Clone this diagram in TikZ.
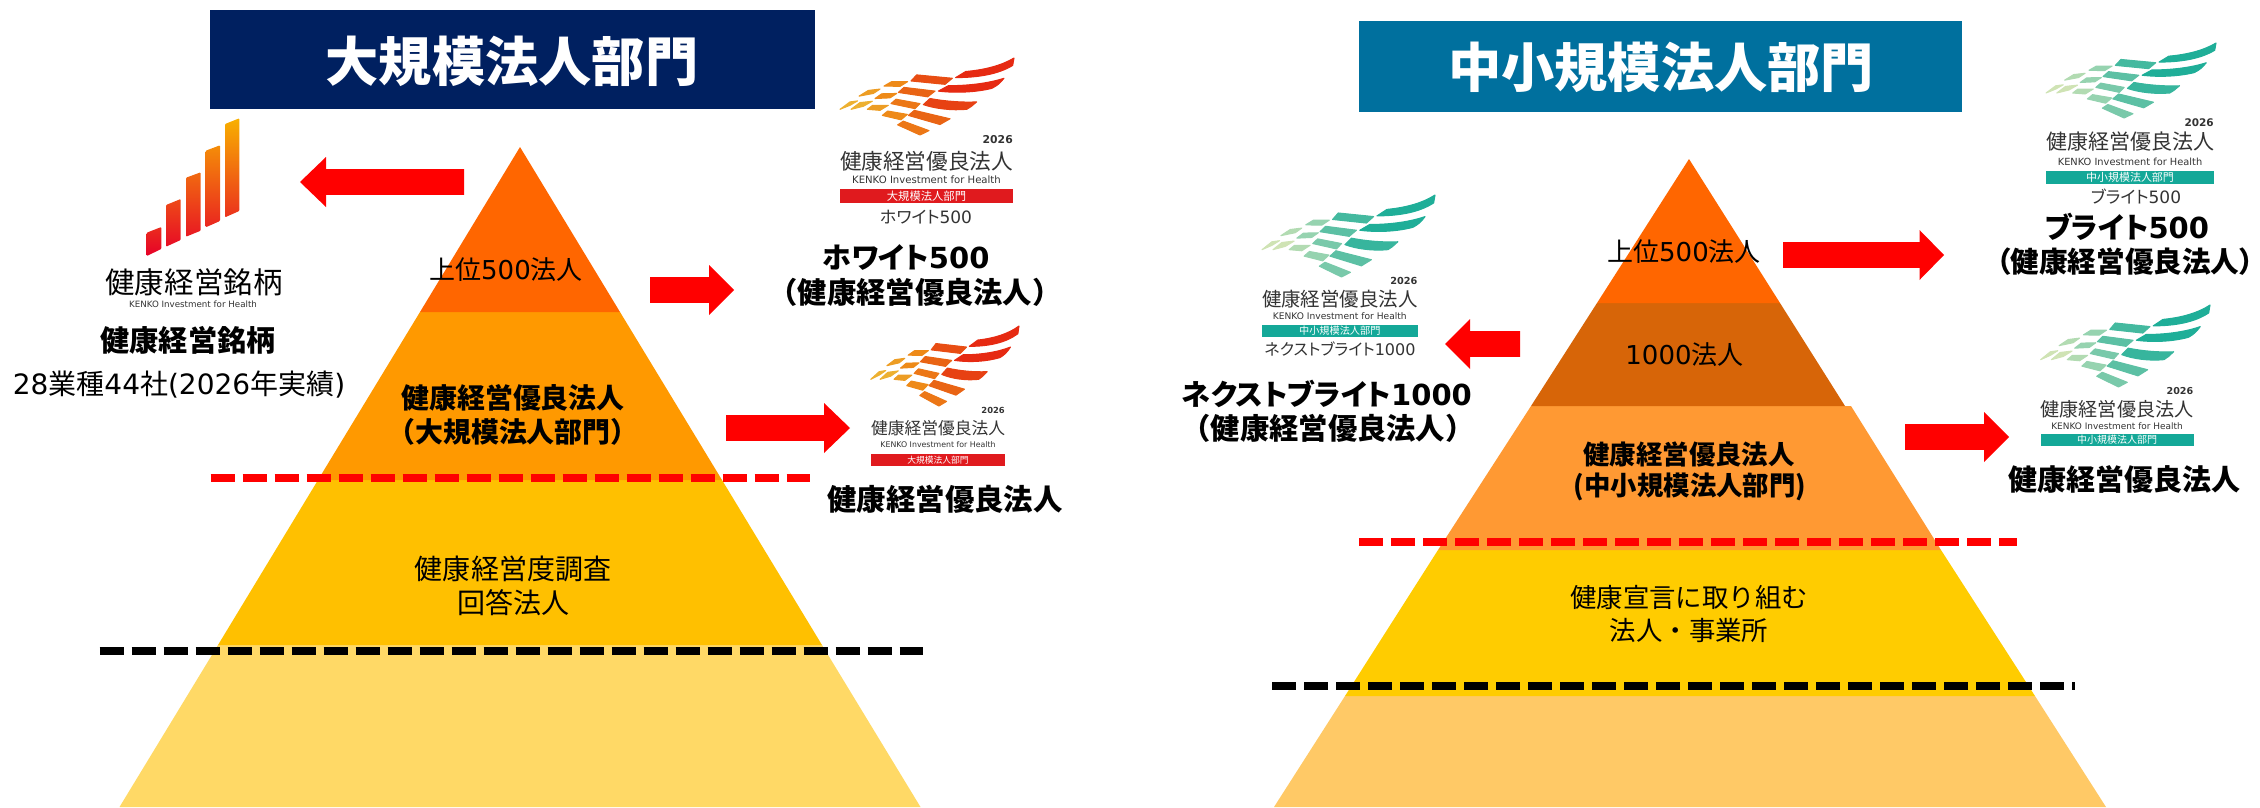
\documentclass[tikz,border=0pt]{standalone}
\usepackage{fontspec}
\setmainfont{Noto Sans CJK JP}
\newfontfamily\palt[RawFeature=+palt]{Noto Sans CJK JP}
\newfontfamily\latinf{DejaVu Sans}
\newcommand{\fpx}[1]{\pgfmathsetmacro\tmpfs{#1*0.8536}\fontsize{\tmpfs pt}{\tmpfs pt}\selectfont}
\newcommand{\dg}[1]{{\latinf #1}}
\definecolor{navyhead}{HTML}{002060}
\definecolor{tealhead}{HTML}{00709E}
\definecolor{lA}{HTML}{FF6600}
\definecolor{lB}{HTML}{FF9900}
\definecolor{lC}{HTML}{FFC000}
\definecolor{lD}{HTML}{FFD966}
\definecolor{rA}{HTML}{FF6600}
\definecolor{rB}{HTML}{D76508}
\definecolor{rC}{HTML}{FF9933}
\definecolor{rD}{HTML}{FFCC00}
\definecolor{rE}{HTML}{FFC966}
\definecolor{logoink}{HTML}{333333}
\definecolor{redbar}{HTML}{E01A1E}
\definecolor{tealbar}{HTML}{14A898}
\definecolor{oA}{HTML}{EDB030}
\definecolor{oB}{HTML}{EE8A18}
\definecolor{oC}{HTML}{E96414}
\definecolor{oD}{HTML}{E62A12}
\definecolor{gA}{HTML}{CFE3B4}
\definecolor{gB}{HTML}{96D3B0}
\definecolor{gC}{HTML}{5CC0A4}
\definecolor{gD}{HTML}{1FAE98}
\definecolor{barlow}{HTML}{E60028}
\definecolor{barhigh}{HTML}{F8B000}
\tikzset{
  lab/.style={inner sep=0pt,text=black,align=center},
  blockarrow/.style={fill=red,draw=none},
  reddash/.style={draw=red,line width=0.24cm,dash pattern=on 0.72cm off 0.24cm},
  blackdash/.style={draw=black,line width=0.24cm,dash pattern=on 0.72cm off 0.24cm},
  inklab/.style={inner sep=0pt,text=logoink},
  stockbar/.style={rounded corners=0.8pt},
  cell/.style={fill=#1,draw=#1,line width=0.9pt,line join=round}
}
% block arrow: xstart, xbase, xtip, ycentre (works in both directions)
\newcommand{\blockarr}[4]{\fill[blockarrow] (#1,#4-12.8) -- (#2,#4-12.8) -- (#2,#4-25) -- (#3,#4) -- (#2,#4+25) -- (#2,#4+12.8) -- (#1,#4+12.8) -- cycle;}
% wing logo: x0 y0 w h c1 c2 c3 c4
\newcommand{\wing}[8]{%
\pgfmathsetmacro\wsx{#3/522}\pgfmathsetmacro\wsy{#4/228}%
\begin{scope}[shift={(#1,#2)},xscale=\wsx,yscale=\wsy,shift={(-15,-20)}]
\path[cell=#8] (362,78) -- (392,60) .. controls (450,55) and (500,42) .. (537,20) -- (533,42) .. controls (490,68) and (430,78) .. cycle;
\path[cell=#7!60!#8] (228,88) -- (245,70) -- (352,80) -- (330,98) -- cycle;
\path[cell=#6] (147,103) -- (170,90) -- (218,90) -- (195,104) -- cycle;
\path[cell=#5!50!#6] (72,133) -- (100,116) -- (135,112) -- (115,125) -- cycle;
\path[cell=#8] (310,118) -- (340,102) .. controls (400,102) and (460,95) .. (507,80) .. controls (495,95) and (485,103) .. (470,110) .. controls (420,122) and (360,124) .. cycle;
\path[cell=#7] (190,122) -- (207,107) -- (300,118) -- (278,135) -- cycle;
\path[cell=#6] (120,140) -- (140,126) -- (185,125) -- (165,138) -- cycle;
\path[cell=#5] (48,172) -- (75,152) -- (112,148) -- (85,163) -- cycle;
\path[cell=#7!40!#8] (265,158) -- (285,140) .. controls (330,148) and (380,152) .. (425,150) .. controls (410,162) and (405,168) .. (395,172) .. controls (350,176) and (300,170) .. cycle;
\path[cell=#6!50!#7] (168,155) -- (183,142) -- (255,155) -- (240,170) -- cycle;
\path[cell=#5!50!#6] (97,172) -- (113,160) -- (160,160) -- (135,175) -- cycle;
\path[cell=#5] (15,172) -- (45,150) -- (68,147) -- (45,160) -- cycle;
\path[cell=#7] (220,190) -- (238,175) -- (345,200) -- (315,217) -- cycle;
\path[cell=#6] (142,190) -- (158,177) -- (217,187) -- (198,203) -- cycle;
\path[cell=#6!50!#7] (188,218) -- (205,207) -- (282,235) -- (255,248) -- cycle;
\end{scope}}
% logo text: name x0 x1 y2026 ytitle ykenko ybar0 ybar1 barcolour; \bartext is the band text
\newcommand{\logotext}[9]{%
\pgfmathsetmacro\lw{#3-#2}\pgfmathsetmacro\lc{(#2+#3)/2}%
\node[inklab,anchor=east,font=\latinf\bfseries] (#1y) at (#3,#4) {\fpx{\lw/16}2026};
\node[inklab] (#1t) at (\lc,#5) {\fpx{\lw/8}健康経営優良法人};
\node[inklab,font=\latinf] (#1k) at (\lc,#6) {\fpx{\lw/17.1}KENKO Investment for Health};
\fill[#9] (#2,#7) rectangle (#3,#8);
\pgfmathsetmacro\lm{(#7+#8)/2}%
\node[inner sep=0pt,text=white] (#1b) at (\lc,\lm) {\fpx{\lw/15.3}\bartext};}
% stock bar: xl xr ybl ytl ytr ybr bottom% top%
\newcommand{\stockbar}[8]{\shade[stockbar,bottom color=barhigh!#7!barlow,top color=barhigh!#8!barlow] (#1,#3) -- (#1,#4) -- (#2,#5) -- (#2,#6) -- cycle;}
\begin{document}
\begin{tikzpicture}[x=0.03cm,y=-0.03cm]
\useasboundingbox (0,0) rectangle (2260,807);
% ---------- left pyramid
\fill[lD] (218,645) -- (822,645) -- (920.5,807) -- (119.5,807) -- cycle;
\fill[lC] (318,480) -- (722,480) -- (822,645) -- (218,645) -- cycle;
\fill[lB] (420,312) -- (620,312) -- (722,480) -- (318,480) -- cycle;
\fill[lA] (520,147) -- (620,312) -- (420,312) -- cycle;
% ---------- right pyramid
\fill[rE] (1345,696) -- (2035,696) -- (2106,807) -- (1274,807) -- cycle;
\fill[rD] (1438,550) -- (1941,550) -- (2035,696) -- (1345,696) -- cycle;
\fill[rC] (1531,406) -- (1851,406) -- (1941,550) -- (1438,550) -- cycle;
\fill[rB] (1597,303) -- (1780,303) -- (1845,406) -- (1531,406) -- cycle;
\fill[rA] (1689,159) -- (1780,303) -- (1597,303) -- cycle;
% ---------- headers
\node[fill=navyhead,text=white,inner sep=0pt,minimum width=18.135cm,minimum height=2.97cm] (headL) at (512.75,59.8) {};
\node[text=white,inner sep=0pt,font=\bfseries] (headLt) at (512,61) {\fpx{53.2}大規模法人部門};
\node[fill=tealhead,text=white,inner sep=0pt,minimum width=18.09cm,minimum height=2.73cm] (headR) at (1660.5,66.5) {};
\node[text=white,inner sep=0pt,font=\bfseries] (headRt) at (1661,67) {\fpx{53.2}中小規模法人部門};
% ---------- dashed lines
\draw[reddash] (210.5,478) -- (810,478);
\draw[blackdash] (99.6,651) -- (923,651);
\draw[reddash] (1359,542) -- (2017,542);
\draw[blackdash] (1272,686) -- (2075,686);
% ---------- block arrows
\blockarr{464}{326}{300}{182}
\blockarr{650}{709}{734}{290}
\blockarr{726}{824}{850}{428}
\blockarr{1783}{1919.5}{1944}{255}
\blockarr{1520}{1470}{1445}{344}
\blockarr{1905}{1984}{2009}{437}
% ---------- pyramid labels left
\node[lab] (l1) at (506,270) {\fpx{26}上位\dg{500}法人};
\node[lab,font=\bfseries] (l2a) at (513,398) {\fpx{27.9}健康経営優良法人};
\node[lab,font=\bfseries] (l2b) at (513,432) {\fpx{27.9}（大規模法人部門）};
\node[lab] (l3a) at (513,569) {\fpx{28}健康経営度調査};
\node[lab] (l3b) at (513,603) {\fpx{28}回答法人};
% ---------- pyramid labels right
\node[lab] (r1) at (1684,252) {\fpx{26}上位\dg{500}法人};
\node[lab] (r2) at (1684.5,355) {\fpx{26}\dg{1000}法人};
\node[lab,font=\bfseries] (r3a) at (1689,454) {\fpx{26.4}健康経営優良法人};
\node[lab,font=\bfseries] (r3b) at (1690,487) {\fpx{26.4}(中小規模法人部門)};
\node[lab] (r4a) at (1689,598) {\fpx{26.4}健康宣言に取り組む};
\node[lab] (r4b) at (1689,630) {\fpx{26.4}法人・事業所};
% ---------- outer captions left
\node[lab,font=\bfseries] (c1) at (188,340) {\fpx{29.2}健康経営銘柄};
\node[lab] (c2) at (179,385) {\fpx{28}\dg{28}業種\dg{44}社\dg{(2026}年実績\dg{)}};
\node[lab,font=\bfseries] (c3a) at (906,257) {\fpx{29}\palt ホワイト\dg{500}};
\node[lab,font=\bfseries] (c3b) at (915,292) {\fpx{29.3}（健康経営優良法人）};
\node[lab,font=\bfseries] (c4) at (945,499) {\fpx{29.4}健康経営優良法人};
% ---------- outer captions right
\node[lab,font=\bfseries] (c5a) at (2127,227) {\fpx{29}\palt ブライト\dg{500}};
\node[lab,font=\bfseries] (c5b) at (2125,262) {\fpx{28.6}\palt （健康経営優良法人）};
\node[lab,font=\bfseries] (c6a) at (1327,394) {\fpx{29}\palt ネクストブライト\dg{1000}};
\node[lab,font=\bfseries] (c6b) at (1328,428) {\fpx{29.3}（健康経営優良法人）};
\node[lab,font=\bfseries] (c7) at (2124,479) {\fpx{29}健康経営優良法人};
% ---------- stock logo
\stockbar{146.7}{161.3}{256}{232.7}{227}{249}{0}{25}
\stockbar{166}{180.7}{246.7}{205}{199}{240}{7}{42}
\stockbar{186}{200.7}{236.7}{177.7}{172.3}{230.7}{14}{60}
\stockbar{205.7}{220}{227.3}{150.7}{145.3}{221}{21}{80}
\stockbar{225}{239.3}{217.3}{124}{118.3}{211}{28}{100}
\node[inklab,text=black] (stockt) at (194,282) {\fpx{29.5}健康経営銘柄};
\node[inklab,font=\latinf] (stockk) at (193,304) {\fpx{8.7}KENKO Investment for Health};
% ---------- award logos
\wing{840}{58}{174}{77}{oA}{oB}{oC}{oD}
\def\bartext{大規模法人部門}
\logotext{wh}{840}{1013}{140}{161}{180}{189}{203}{redbar}
\node[inklab] (whl) at (926,217) {\fpx{17}\palt ホワイト\dg{500}};
\wing{870.7}{326}{148.3}{80}{oA}{oB}{oC}{oD}
\logotext{ko}{871}{1005}{410}{428}{445}{454}{466}{redbar}
\def\bartext{中小規模法人部門}
\wing{2046}{43}{170}{75}{gA}{gB}{gC}{gD}
\logotext{br}{2046}{2214}{123}{142}{162}{171}{184}{tealbar}
\node[inklab] (brl) at (2136,197) {\fpx{17}\palt ブライト\dg{500}};
\wing{1262}{195}{173}{82}{gA}{gB}{gC}{gD}
\logotext{ne}{1262}{1417.6}{281}{299}{316}{325}{337}{tealbar}
\node[inklab] (nel) at (1340,349) {\fpx{16}\palt ネクストブライト\dg{1000}};
\wing{2040.6}{305}{169.4}{82}{gA}{gB}{gC}{gD}
\logotext{kr}{2040.6}{2193.5}{391}{409}{426}{434}{446}{tealbar}
\end{tikzpicture}
\end{document}
